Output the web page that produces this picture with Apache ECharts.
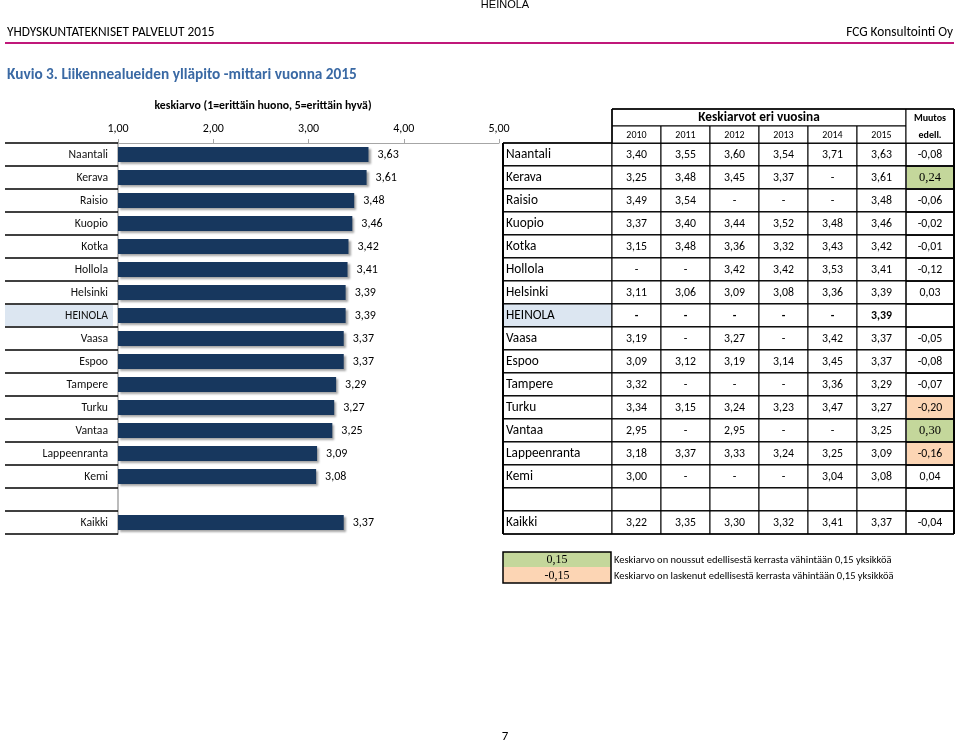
<!DOCTYPE html>
<html><head><meta charset="utf-8">
<script src="https://cdn.jsdelivr.net/npm/echarts@6/dist/echarts.min.js"></script>
<style>html,body{margin:0;padding:0;background:#fff}#c{width:959px;height:743px}</style>
</head><body><div id="c"></div>
<script>
// ---------- data ----------
const categories = ['Naantali','Kerava','Raisio','Kuopio','Kotka','Hollola','Helsinki','HEINOLA','Vaasa','Espoo','Tampere','Turku','Vantaa','Lappeenranta','Kemi','','Kaikki'];
const years = ['2010','2011','2012','2013','2014','2015'];
const y2010 = [3.40,3.25,3.49,3.37,3.15,null,3.11,null,3.19,3.09,3.32,3.34,2.95,3.18,3.00,null,3.22];
const y2011 = [3.55,3.48,3.54,3.40,3.48,null,3.06,null,null,3.12,null,3.15,null,3.37,null,null,3.35];
const y2012 = [3.60,3.45,null,3.44,3.36,3.42,3.09,null,3.27,3.19,null,3.24,2.95,3.33,null,null,3.30];
const y2013 = [3.54,3.37,null,3.52,3.32,3.42,3.08,null,null,3.14,null,3.23,null,3.24,null,null,3.32];
const y2014 = [3.71,null,null,3.48,3.43,3.53,3.36,null,3.42,3.45,3.36,3.47,null,3.25,3.04,null,3.41];
const y2015 = [3.63,3.61,3.48,3.46,3.42,3.41,3.39,3.39,3.37,3.37,3.29,3.27,3.25,3.09,3.08,null,3.37];
const change = [-0.08,0.24,-0.06,-0.02,-0.01,-0.12,0.03,null,-0.05,-0.08,-0.07,-0.20,0.30,-0.16,0.04,null,-0.04];
const axisMin = 1, axisMax = 5, axisStep = 1;
const highlight = 'HEINOLA';
const threshold = 0.15;
const texts = {
  top: 'HEINOLA',
  header: 'YHDYSKUNTATEKNISET PALVELUT 2015',
  company: 'FCG Konsultointi Oy',
  title: 'Kuvio 3. Liikennealueiden ylläpito -mittari vuonna 2015',
  axisName: 'keskiarvo (1=erittäin huono, 5=erittäin hyvä)',
  tableHead: 'Keskiarvot eri vuosina',
  changeHead1: 'Muutos', changeHead2: 'edell.',
  legendUp: 'Keskiarvo on noussut edellisestä kerrasta vähintään 0,15 yksikköä',
  legendDown: 'Keskiarvo on laskenut edellisestä kerrasta vähintään 0,15 yksikköä',
  page: '7'
};

// ---------- layout / style ----------
const F = 'Carlito, Lato, "Open Sans", sans-serif';
const FS = '"Liberation Serif", "DejaVu Serif", serif';
const TOP = 143, ROWS_H = 391;
const LABEL_W = 113;
const colEdges = [0,109,158,207,256,305,354,403,451];
const HDR1 = 17, HDR2 = 17;
const GREEN = '#c4d79b', PINK = '#fcd5b4', HLBLUE = '#dce6f1';
const fmt = v => v.toFixed(2).replace('.', ',');
const yearCols = [y2010,y2011,y2012,y2013,y2014,y2015];

function ln(x1,y1,x2,y2,w,c){return {type:'line',shape:{x1,y1,x2,y2},style:{stroke:c||'#000',lineWidth:w||1}};}
function tx(text,x,y,o){return {type:'text',style:Object.assign({text,x,y,align:'center',verticalAlign:'middle',fontFamily:F,fontSize:11.8,fill:'#000'},o||{})};}

function labelItem(params, api){
  const i = params.dataIndex;
  const c = api.coord([0, i]); const h = api.size([0,1])[1];
  const x0 = c[0], x1 = api.coord([LABEL_W, i])[0];
  const top = c[1]-h/2, bot = c[1]+h/2;
  const ch = [];
  if (categories[i] === highlight) ch.push({type:'rect',shape:{x:x0,y:top+1,width:x1-x0-5,height:h-2},style:{fill:HLBLUE}});
  if (i === 0) ch.push(ln(x0,top,x1,top,1.6));
  ch.push(ln(x0,bot,x1,bot,1.6));
  ch.push(tx(categories[i], x1-10, c[1]+0.5, {align:'right', fontSize:11.7, fill:'#111'}));
  return {type:'group', children: ch};
}

function tableItem(params, api){
  const i = params.dataIndex;
  const c = api.coord([0, i]); const h = api.size([0,1])[1];
  const top = c[1]-h/2, bot = c[1]+h/2, cy = c[1]+0.5;
  const xs = colEdges.map(e => api.coord([e, i])[0]);
  const ch = [];
  const name = categories[i];
  const isHL = name === highlight;
  const blank = name === '';
  const cv = change[i];
  ch.push({type:'rect',shape:{x:xs[0],y:top,width:xs[1]-xs[0],height:h},style:{fill:isHL?HLBLUE:'#fff',stroke:'#000',lineWidth:1}});
  for (let k=1;k<=6;k++) ch.push({type:'rect',shape:{x:xs[k],y:top,width:xs[k+1]-xs[k],height:h},style:{fill:'#fff',stroke:'#000',lineWidth:1}});
  let cfill = '#fff';
  if (cv != null && cv >= threshold - 1e-9) cfill = GREEN;
  if (cv != null && cv <= -threshold + 1e-9) cfill = PINK;
  ch.push({type:'rect',shape:{x:xs[7]+1,y:top+1,width:xs[8]-xs[7]-2,height:h-2},style:{fill:cfill}});
  ch.push({type:'rect',shape:{x:xs[7],y:top,width:xs[8]-xs[7],height:h},style:{fill:'none',stroke:'#000',lineWidth:1}});
  ch.push(ln(xs[0],bot,xs[8],bot,1.5));
  if (i === 0) ch.push(ln(xs[0],top,xs[8],top,1.5));
  ch.push(ln(xs[0],top,xs[0],bot,2));
  ch.push(ln(xs[8],top,xs[8],bot,2));
  if (!blank) {
    ch.push(tx(name, xs[0]+3, cy, {align:'left', fontSize:13.3}));
    for (let k=0;k<6;k++){
      const v = yearCols[k][i];
      ch.push(tx(v==null?'-':fmt(v), (xs[k+1]+xs[k+2])/2, cy, {fontSize:11.8, fontWeight:isHL?'bold':'normal'}));
    }
    if (cv != null) {
      const serif = cv >= threshold - 1e-9;
      ch.push(tx(fmt(cv), (xs[7]+xs[8])/2, cy, serif ? {fontFamily:FS, fontSize:12.5} : {fontSize:11.8}));
    }
  }
  if (i === 0) {
    const t0 = top - HDR1 - HDR2, t1 = top - HDR2;
    ch.push({type:'rect',shape:{x:xs[1],y:t0,width:xs[7]-xs[1],height:HDR1},style:{fill:'#fff',stroke:'#000',lineWidth:1}});
    for (let k=1;k<=6;k++){
      ch.push({type:'rect',shape:{x:xs[k],y:t1,width:xs[k+1]-xs[k],height:HDR2},style:{fill:'#fff',stroke:'#000',lineWidth:1}});
      ch.push(tx(years[k-1], (xs[k]+xs[k+1])/2, t1+HDR2/2+0.5, {fontSize:10}));
    }
    ch.push({type:'rect',shape:{x:xs[7],y:t0,width:xs[8]-xs[7],height:HDR1+HDR2},style:{fill:'#fff',stroke:'#000',lineWidth:1}});
    ch.push(ln(xs[1],t0,xs[8],t0,1.5));
    ch.push(ln(xs[1],t0,xs[1],top,1.5));
    ch.push(ln(xs[8],t0,xs[8],top,2));
    ch.push(tx(texts.tableHead, (xs[1]+xs[7])/2, t0+HDR1/2+0.5, {fontSize:13.3, fontWeight:'bold'}));
    ch.push(tx(texts.changeHead1, (xs[7]+xs[8])/2, t0+HDR1/2+1, {fontSize:10, fontWeight:'bold'}));
    ch.push(tx(texts.changeHead2, (xs[7]+xs[8])/2, t1+HDR2/2+0.5, {fontSize:10, fontWeight:'bold'}));
  }
  return {type:'group', children: ch};
}

const rowData = categories.map((c,i)=>[0,i]);

const chart = echarts.init(document.getElementById('c'), null, {renderer:'canvas'});
chart.setOption({
  animation:false,
  backgroundColor:'#fff',
  grid:[
    {left:5, top:TOP, width:LABEL_W, height:ROWS_H},
    {left:118, top:TOP, width:381, height:ROWS_H},
    {left:503, top:TOP, width:451, height:ROWS_H}
  ],
  xAxis:[
    {gridIndex:0, type:'value', min:0, max:LABEL_W, show:false},
    {gridIndex:1, type:'value', min:axisMin, max:axisMax, interval:axisStep, position:'top',
     axisLine:{show:true, lineStyle:{color:'#a6a6a6', width:1}},
     axisTick:{show:true, length:4, lineStyle:{color:'#a6a6a6'}},
     axisLabel:{formatter:v=>fmt(v), fontFamily:F, fontSize:12, color:'#000', margin:8},
     splitLine:{show:false}},
    {gridIndex:2, type:'value', min:0, max:colEdges[colEdges.length-1], show:false}
  ],
  yAxis:[
    {gridIndex:0, type:'category', data:categories, inverse:true, show:false},
    {gridIndex:1, type:'category', data:categories, inverse:true,
     axisLine:{show:true, lineStyle:{color:'#a6a6a6', width:1.5}}, axisTick:{show:false}, axisLabel:{show:false}},
    {gridIndex:2, type:'category', data:categories, inverse:true, show:false}
  ],
  series:[
    {type:'custom', xAxisIndex:0, yAxisIndex:0, data:rowData, encode:{x:0,y:1}, renderItem:labelItem, clip:false, silent:true},
    {type:'bar', xAxisIndex:1, yAxisIndex:1, data:y2015, barWidth:15,
     itemStyle:{color:'#17375e', shadowColor:'rgba(0,0,0,0.35)', shadowBlur:2, shadowOffsetX:2, shadowOffsetY:2},
     label:{show:true, position:'right', distance:9, formatter:p=>fmt(p.value), fontFamily:F, fontSize:12, color:'#000'}},
    {type:'custom', xAxisIndex:2, yAxisIndex:2, data:rowData, encode:{x:0,y:1}, renderItem:tableItem, clip:false, silent:true}
  ],
  graphic:[
    {type:'text', x:505, y:5, style:{text:texts.top, fontFamily:'"Liberation Sans", Arial, sans-serif', fontSize:11, fill:'#000', align:'center', verticalAlign:'middle'}},
    {type:'text', x:7, y:33, style:{text:texts.header, fontFamily:F, fontSize:13.3, fill:'#000', verticalAlign:'middle'}},
    {type:'text', x:953, y:33, style:{text:texts.company, fontFamily:F, fontSize:13.3, fill:'#000', align:'right', verticalAlign:'middle'}},
    {type:'line', shape:{x1:5,y1:43,x2:954,y2:43}, style:{stroke:'#c0187a', lineWidth:2}},
    {type:'text', x:7, y:75, style:{text:texts.title, fontFamily:F, fontSize:15.3, fontWeight:'bold', fill:'#3a69a4', verticalAlign:'middle'}},
    {type:'text', x:263, y:106, style:{text:texts.axisName, fontFamily:F, fontSize:11.8, fontWeight:'bold', fill:'#000', align:'center', verticalAlign:'middle'}},
    {type:'rect', shape:{x:503,y:552,width:108,height:15}, style:{fill:GREEN}},
    {type:'rect', shape:{x:503,y:567,width:108,height:16}, style:{fill:PINK}},
    {type:'rect', shape:{x:503,y:552,width:108,height:31}, style:{fill:'none', stroke:'#000', lineWidth:1.5}},
    {type:'text', x:557, y:560, style:{text:fmt(threshold), fontFamily:FS, fontSize:12, fill:'#000', align:'center', verticalAlign:'middle'}},
    {type:'text', x:557, y:575.5, style:{text:fmt(-threshold), fontFamily:FS, fontSize:12, fill:'#000', align:'center', verticalAlign:'middle'}},
    {type:'text', x:614, y:560, style:{text:texts.legendUp, fontFamily:F, fontSize:10.5, fill:'#000', verticalAlign:'middle'}},
    {type:'text', x:614, y:576, style:{text:texts.legendDown, fontFamily:F, fontSize:10.5, fill:'#000', verticalAlign:'middle'}},
    {type:'text', x:505, y:737, style:{text:texts.page, fontFamily:F, fontSize:13, fill:'#000', align:'center', verticalAlign:'middle'}}
  ]
});
</script></body></html>
